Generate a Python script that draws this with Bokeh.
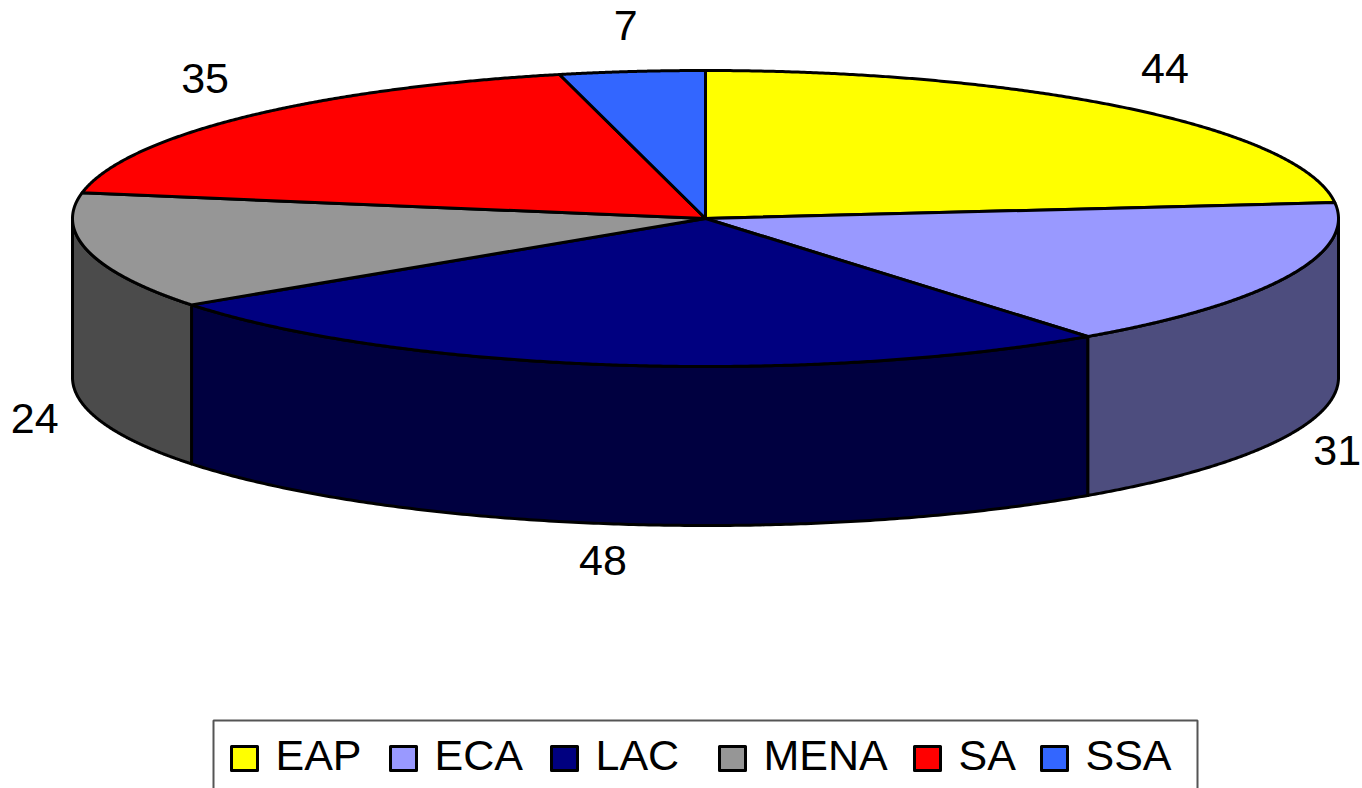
import numpy as np
from bokeh.plotting import figure
from bokeh.models import Range1d
from bokeh.core.properties import value
from bokeh.embed import file_html
from bokeh.resources import INLINE

# ---- data ----
categories = ["EAP", "ECA", "LAC", "MENA", "SA", "SSA"]
values = [44, 31, 48, 24, 35, 7]
legend_labels = ["EAP", "ECA", " LAC", "MENA", "SA", "SSA"]
top_colors = ["#FFFF00", "#9999FF", "#000080", "#969696", "#FF0000", "#3366FF"]
side_colors = ["#808000", "#4D4D7E", "#000040", "#4B4B4B", "#800000", "#1A3380"]

# ---- layout (pixel space, y downward) ----
W, H = 1362, 788
CX, CY = 705.0, 218.0
RX, RY = 633.0, 148.0
DEPTH = 159.0
LAB_RX = 688.0
LAB_RY_TOP, LAB_HH_TOP = 171.0, 23.0
LAB_RY_BOT = 185.0
FONT = "Liberation Sans"
FONT_SIZE = "43px"
legend_sq_x = [231, 390, 551, 719, 914, 1041]

p = figure(width=W, height=H, output_backend="svg", toolbar_location=None,
           x_range=Range1d(0, W), y_range=Range1d(H, 0),
           x_axis_type=None, y_axis_type=None, min_border=0)
p.grid.visible = False
p.outline_line_color = None
p.background_fill_color = "white"
p.border_fill_color = "white"

total = float(sum(values))
cum = np.concatenate([[0.0], np.cumsum(values)]) / total * 2 * np.pi


def pt(t, dy=0.0):
    return CX + RX * np.sin(t), CY - RY * np.cos(t) + dy


# side walls (front half only)
sx, sy, sc = [], [], []
for i in range(len(values)):
    lo = max(cum[i], np.pi / 2)
    hi = min(cum[i + 1], 3 * np.pi / 2)
    if hi <= lo:
        continue
    t = np.linspace(lo, hi, 200)
    xt, yt = pt(t)
    xb, yb = pt(t[::-1], DEPTH)
    sx.append(list(xt) + list(xb))
    sy.append(list(yt) + list(yb))
    sc.append(side_colors[i])
p.patches(sx, sy, fill_color=sc, line_color="black", line_width=3,
          line_join="round")

# top faces
tx, ty = [], []
for i in range(len(values)):
    t = np.linspace(cum[i], cum[i + 1], 300)
    x, y = pt(t)
    tx.append([CX] + list(x))
    ty.append([CY] + list(y))
p.patches(tx, ty, fill_color=top_colors, line_color="black", line_width=3,
          line_join="round")

# value labels
lx, ly, lt = [], [], []
for i, v in enumerate(values):
    m = (cum[i] + cum[i + 1]) / 2
    c = np.cos(m)
    x = CX + LAB_RX * np.sin(m)
    if c >= 0:
        y = CY - LAB_RY_TOP * c - LAB_HH_TOP
    else:
        y = CY - LAB_RY_BOT * c + DEPTH
    lx.append(x); ly.append(y); lt.append(str(v))
p.text(lx, ly, text=lt, text_font=value(FONT), text_font_size=FONT_SIZE,
       text_align="center", text_baseline="middle", text_color="black")

# legend
p.quad(left=[213], right=[1197], top=[720], bottom=[800], fill_color="white",
       line_color="#555555", line_width=2)
sq_x = [x + 13 for x in legend_sq_x]
p.rect(sq_x, [758] * len(sq_x), width=26, height=24, fill_color=top_colors,
       line_color="black", line_width=3, line_join="round")
p.text([x + 44 for x in legend_sq_x], [754] * len(sq_x), text=legend_labels,
       text_font=value(FONT), text_font_size=FONT_SIZE, text_align="left",
       text_baseline="middle", text_color="black")

open("out.html", "w").write(file_html(p, INLINE))
